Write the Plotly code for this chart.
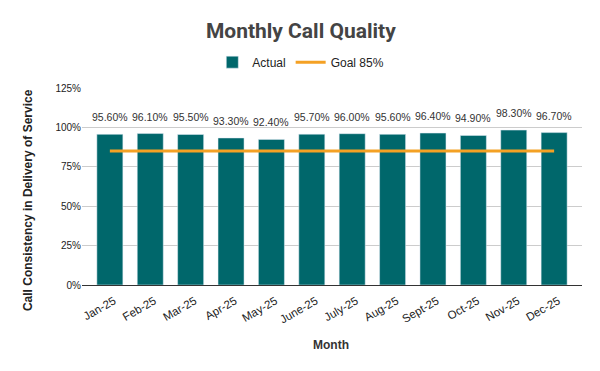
import plotly.graph_objects as go

months = ["Jan-25", "Feb-25", "Mar-25", "Apr-25", "May-25", "June-25",
          "July-25", "Aug-25", "Sept-25", "Oct-25", "Nov-25", "Dec-25"]
actual = [95.6, 96.1, 95.5, 93.3, 92.4, 95.7, 96.0, 95.6, 96.4, 94.9, 98.3, 96.7]
goal = [85] * 12
y_ticks = [0, 25, 50, 75, 100, 125]

LABEL_FONT = "Liberation Sans, Arial, sans-serif"

fig = go.Figure()
fig.add_trace(go.Bar(
    x=months, y=actual, name="Actual",
    marker_color="#00676b",
))
fig.add_trace(go.Scatter(
    x=months, y=goal, name="Goal 85%", mode="lines",
    line=dict(color="#f4a124", width=3),
))

annotations = []
for m, v in zip(months, actual):
    annotations.append(dict(
        x=m, y=v, xref="x", yref="y", text=f"{v:.2f}%", showarrow=False,
        yanchor="middle", yshift=17,
        font=dict(size=10.5, color="#333333", family=LABEL_FONT),
    ))
# axis titles
annotations.append(dict(
    text="<b>Month</b>", x=0.498, y=-0.305, xref="paper", yref="paper",
    showarrow=False, xanchor="center", yanchor="middle",
    font=dict(size=12, color="#333333", family=LABEL_FONT),
))
annotations.append(dict(
    text="<b>Call Consistency in Delivery of Service</b>", x=-0.108, y=0.431,
    xref="paper", yref="paper", textangle=-90,
    showarrow=False, xanchor="center", yanchor="middle",
    font=dict(size=12, color="#222222", family=LABEL_FONT),
))

fig.update_layout(
    width=600, height=371,
    margin=dict(l=74, r=26, t=80, b=94, autoexpand=False),
    paper_bgcolor="white", plot_bgcolor="white",
    font=dict(family=LABEL_FONT, color="#333333", size=10),
    title=dict(text="<b>Monthly Call Quality</b>", x=0.488, xanchor="center",
               xref="container", yref="container",
               y=0.938, yanchor="middle",
               font=dict(size=21, color="#444444", family="Roboto")),
    legend=dict(orientation="h", x=0.488, xanchor="center", xref="container",
                yref="container", y=0.854, yanchor="middle",
                font=dict(size=12, color="#222222", family=LABEL_FONT)),
    bargap=0.356,
    showlegend=True,
    annotations=annotations,
)
fig.update_xaxes(
    range=[-0.69, 11.69], automargin=False,
    tickangle=-30, tickfont=dict(size=11.5, color="#222222"),
    ticklabelstandoff=4, ticklabelshift=4,
    showline=True, linecolor="#333333", linewidth=1, ticks="",
)
fig.update_yaxes(
    range=[0, 125], tickvals=y_ticks, ticktext=[f"{t}%" for t in y_ticks],
    automargin=False,
    tickfont=dict(size=10, color="#222222"),
    gridcolor="#cccccc", zeroline=False,
)

fig.write_html("out.html")
